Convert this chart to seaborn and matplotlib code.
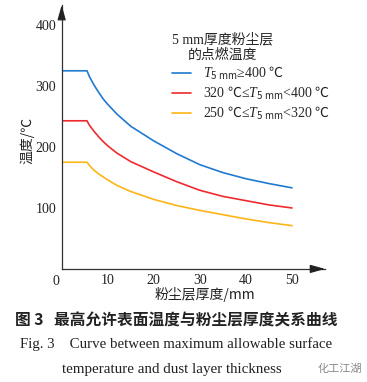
import numpy as np
import pandas as pd
import matplotlib
matplotlib.use("Agg")
import matplotlib.pyplot as plt
import seaborn as sns

# ---- data ----
thickness = [0, 5.5, 6, 6.5, 7, 8, 9, 10, 12, 15, 20, 25, 30, 35, 40, 45, 50]
blue_vals = [325, 325, 316, 309, 302, 290, 279, 270, 254, 234, 210, 189, 171, 158, 148, 140, 133]
red_vals = [243, 243, 236, 231, 226, 217, 209, 202, 190, 176, 159, 143, 129, 119, 112, 105, 100]
orange_vals = [175, 175, 170, 166, 162, 156, 151, 146, 137, 127, 114, 104, 96, 89, 82, 76, 71]
series_labels = [
    r"$T_{5\ \mathrm{mm}}$≥400 $\mathrm{℃}$",
    r"320 $\mathrm{℃}$≤$T_{5\ \mathrm{mm}}$<400 $\mathrm{℃}$",
    r"250 $\mathrm{℃}$≤$T_{5\ \mathrm{mm}}$<320 $\mathrm{℃}$",
]
colors = ["#1f7ad0", "#ee2a2f", "#fdb515"]
xticks = [10, 20, 30, 40, 50]
yticks = [100, 200, 300, 400]

rows = []
for lab, vals in zip(series_labels, [blue_vals, red_vals, orange_vals]):
    for x, y in zip(thickness, vals):
        rows.append({"thickness": x, "temp": y, "series": lab})
df = pd.DataFrame(rows)

sns.set_style("white")
plt.rcParams["font.family"] = ["Liberation Serif", "Noto Sans CJK SC"]
plt.rcParams["mathtext.fontset"] = "custom"
plt.rcParams["mathtext.rm"] = "Noto Sans CJK SC"
plt.rcParams["mathtext.it"] = "Liberation Serif:italic"
plt.rcParams["mathtext.bf"] = "Liberation Serif:bold"

fig = plt.figure(figsize=(3.67, 3.82), dpi=100)
ax = fig.add_axes([0.168, 0.296, 0.718, 0.691])

sns.lineplot(data=df, x="thickness", y="temp", hue="series",
             hue_order=series_labels, palette=colors, linewidth=1.2,
             ax=ax, legend=True)

ax.set_xlim(0, 57.2)
ax.set_ylim(0, 433)
for s in ["top", "right"]:
    ax.spines[s].set_visible(False)
for s in ["left", "bottom"]:
    ax.spines[s].set_color("#333333")
    ax.spines[s].set_linewidth(0.9)

ax.set_xticks(xticks)
ax.set_yticks(yticks)
ax.tick_params(direction="in", length=4, width=0.8, color="#333333",
               labelsize=10, labelcolor="#222222", pad=4)
ax.set_xlabel("")
ax.set_ylabel("")

# origin label
ax.text(-1.2, -10, "0", ha="center", va="top", fontsize=10, color="#222222")

# arrow heads
ax.annotate("", xy=(1.0, 0), xytext=(0.95, 0), xycoords="axes fraction",
            arrowprops=dict(arrowstyle="-|>,head_length=0.9,head_width=0.25",
                            color="#222222", lw=0.9, shrinkA=0, shrinkB=0))
ax.annotate("", xy=(0, 1.0), xytext=(0, 0.95), xycoords="axes fraction",
            arrowprops=dict(arrowstyle="-|>,head_length=0.9,head_width=0.25",
                            color="#222222", lw=0.9, shrinkA=0, shrinkB=0))

# axis labels
fig.text(205 / 367, 1 - 295 / 382, "粉尘层厚度/mm", ha="center", va="center",
         fontsize=10, color="#222222",
         family=["Noto Sans CJK SC", "Liberation Serif"])
fig.text(27 / 367, 1 - 140 / 382, "温度/℃", ha="center", va="center",
         rotation=90, fontsize=10, color="#222222",
         family=["Noto Sans CJK SC", "Liberation Serif"])

# legend
handles, labels = ax.get_legend_handles_labels()
leg = ax.legend(handles, labels, title="5 mm厚度粉尘层\n的点燃温度",
                loc="upper left", bbox_to_anchor=(0.38, 0.93),
                frameon=False, fontsize=10, title_fontsize=10,
                handlelength=1.4, handletextpad=0.9, labelspacing=0.2,
                borderpad=0.2)
leg.get_title().set_multialignment("center")
leg.get_title().set_family(["Liberation Serif", "Noto Sans CJK SC"])
leg._legend_box.align = "left"

# captions
fig.text(15 / 367, 1 - 320 / 382, "图 3   最高允许表面温度与粉尘层厚度关系曲线",
         ha="left", va="center", fontsize=11.3, fontweight="bold",
         color="#222222", family=["Noto Sans CJK SC", "Liberation Serif"])
fig.text(20 / 367, 1 - 344 / 382,
         "Fig. 3    Curve between maximum allowable surface",
         ha="left", va="center", fontsize=10.7, color="#222222")
fig.text(62 / 367, 1 - 369 / 382, "temperature and dust layer thickness",
         ha="left", va="center", fontsize=10.8, color="#222222")
fig.text(318 / 367, 1 - 369 / 382, "化工江湖", ha="left", va="center",
         fontsize=8, color="#888888",
         family=["Noto Sans CJK SC", "Liberation Serif"])

fig.savefig("out.png", dpi=100)
